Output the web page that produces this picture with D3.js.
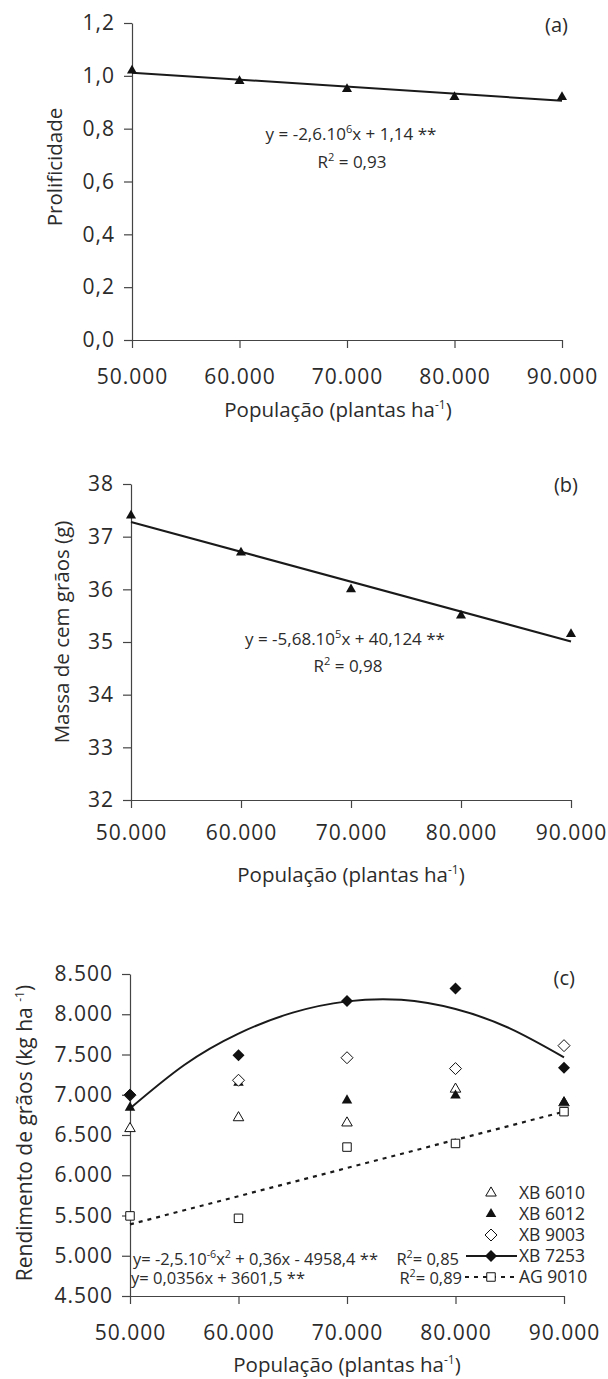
<!DOCTYPE html>
<html>
<head>
<meta charset="utf-8">
<script src="https://cdn.jsdelivr.net/npm/d3@7"></script>
<style>
  body { margin: 0; background: #fff; }
  svg { display: block; font-family: 'Open Sans', sans-serif; }
  .axis path, .axis line { stroke: #444; stroke-width: 1.2; }
  .axis text { fill: #2b2b2b; font-size: 21px; letter-spacing: 1px; font-family: 'Open Sans', sans-serif; }
</style>
</head>
<body>
<svg id="chart" width="608" height="1379"></svg>
<script>
// populacoes (plantas/ha)
const populations = [50000, 60000, 70000, 80000, 90000];

// (a) prolificidade
const prolificidade = [1.02, 0.98, 0.95, 0.92, 0.92];
const prolifFit = [1.012, 0.906];          // reta ajustada em 50k e 90k
const prolifTicks = [0, 0.2, 0.4, 0.6, 0.8, 1.0, 1.2];

// (b) massa de cem grãos
const massa = [37.4, 36.7, 36.0, 35.5, 35.15];
const massaFit = [37.28, 35.01];
const massaTicks = [32, 33, 34, 35, 36, 37, 38];

// (c) rendimento por híbrido
const xb6010 = [6580, 6715, 6650, 7070, 6900];
const xb6012 = [6840, 7150, 6930, 6990, 6905];
const xb9003 = [6995, 7180, 7460, 7325, 7610];
const xb7253 = [7000, 7490, 8165, 8320, 7335];
const ag9010 = [5495, 5465, 6350, 6395, 6790];
const curveX = [50000, 55000, 60000, 65000, 70000, 75000, 80000, 85000, 90000];
const curve7253 = [6830, 7370, 7760, 8020, 8160, 8180, 8065, 7825, 7465];
const agFit = [5390, 6790];
const rendTicks = [4500, 5000, 5500, 6000, 6500, 7000, 7500, 8000, 8500];

const locale = d3.formatLocale({ decimal: ',', thousands: '.', grouping: [3], currency: ['', ''] });
const fmtInt = locale.format(',d');
const fmt1 = locale.format('.1f');

const svg = d3.select('#chart');
const ink = '#2b2b2b';

const triangle = d3.symbol().type(d3.symbolTriangle);
const square = d3.symbol().type(d3.symbolSquare);

function drawAxes(x, y, yTicks, yFmt, xPad) {
  const [y0] = y.range();
  const [x0] = x.range();
  svg.append('g')
    .attr('class', 'axis')
    .attr('transform', `translate(0,${y0})`)
    .call(d3.axisBottom(x).tickValues(populations).tickFormat(fmtInt)
      .tickSize(8).tickSizeOuter(0).tickPadding(xPad));
  svg.append('g')
    .attr('class', 'axis')
    .attr('transform', `translate(${x0},0)`)
    .call(d3.axisLeft(y).tickValues(yTicks).tickFormat(yFmt)
      .tickSize(8).tickSizeOuter(0).tickPadding(9));
}

function xTitle(cx, cy) {
  const t = svg.append('text')
    .attr('x', cx).attr('y', cy)
    .attr('text-anchor', 'middle')
    .attr('fill', ink)
    .style('font-size', '20.5px');
  t.append('tspan').text('População (plantas ha');
  t.append('tspan').attr('dy', -8).style('font-size', '12px').text('-1');
  t.append('tspan').attr('dy', 8).text(')');
}

function yTitle(cx, cy, parts, size) {
  const t = svg.append('text')
    .attr('transform', `translate(${cx},${cy}) rotate(-90)`)
    .attr('text-anchor', 'middle')
    .attr('dy', '0.35em')
    .attr('fill', ink)
    .style('font-size', size + 'px');
  t.append('tspan').text(parts[0]);
  if (parts[1]) {
    t.append('tspan').attr('dy', -8).style('font-size', '12px').text(parts[1]);
    t.append('tspan').attr('dy', 8).text(parts[2]);
  }
}

function panelLabel(txt, x, y) {
  svg.append('text')
    .attr('x', x).attr('y', y)
    .attr('text-anchor', 'end')
    .attr('fill', ink)
    .style('font-size', '20px')
    .text(txt);
}

// equação com expoente
function eqText(x, y, anchor, pieces, size) {
  const t = svg.append('text')
    .attr('x', x).attr('y', y)
    .attr('text-anchor', anchor)
    .attr('fill', ink)
    .style('font-size', size + 'px');
  let up = false;
  pieces.forEach(p => {
    const sup = p.startsWith('^');
    const s = t.append('tspan').text(sup ? p.slice(1) : p);
    if (sup && !up) { s.attr('dy', -7).style('font-size', (size * 0.65) + 'px'); up = true; }
    else if (!sup && up) { s.attr('dy', 7); up = false; }
    else if (sup) { s.style('font-size', (size * 0.65) + 'px'); }
  });
  return t;
}

// ---------- (a) ----------
const xA = d3.scaleLinear().domain([50000, 90000]).range([132, 562]);
const yA = d3.scaleLinear().domain([0, 1.2]).range([340, 23]);
drawAxes(xA, yA, prolifTicks, fmt1, 21);

svg.append('line')
  .attr('x1', xA(50000)).attr('y1', yA(prolifFit[0]))
  .attr('x2', xA(90000)).attr('y2', yA(prolifFit[1]))
  .attr('stroke', '#1a1a1a').attr('stroke-width', 2);

svg.append('g').selectAll('path')
  .data(prolificidade)
  .join('path')
  .attr('d', triangle.size(44))
  .attr('transform', (d, i) => `translate(${xA(populations[i])},${yA(d)})`)
  .attr('fill', '#111');

eqText(351, 140, 'middle', ['y = -2,6.10', '^6', 'x + 1,14 **'], 17);
eqText(352, 168, 'middle', ['R', '^2', ' = 0,93'], 17);
panelLabel('(a)', 568, 32);
yTitle(55, 167, ['Prolificidade'], 20.5);
xTitle(338, 417);

// ---------- (b) ----------
const xB = d3.scaleLinear().domain([50000, 90000]).range([131, 571]);
const yB = d3.scaleLinear().domain([32, 38]).range([800, 484]);
drawAxes(xB, yB, massaTicks, fmtInt, 17);

svg.append('line')
  .attr('x1', xB(50000)).attr('y1', yB(massaFit[0]))
  .attr('x2', xB(90000)).attr('y2', yB(massaFit[1]))
  .attr('stroke', '#1a1a1a').attr('stroke-width', 2);

svg.append('g').selectAll('path')
  .data(massa)
  .join('path')
  .attr('d', triangle.size(44))
  .attr('transform', (d, i) => `translate(${xB(populations[i])},${yB(d)})`)
  .attr('fill', '#111');

eqText(345, 645, 'middle', ['y = -5,68.10', '^5', 'x + 40,124 **'], 17);
eqText(348, 672, 'middle', ['R', '^2', ' = 0,98'], 17);
panelLabel('(b)', 578, 492);
yTitle(62, 632, ['Massa de cem grãos (g)'], 20.5);
xTitle(351, 882);

// ---------- (c) ----------
const xC = d3.scaleLinear().domain([50000, 90000]).range([130, 564]);
const yC = d3.scaleLinear().domain([4500, 8500]).range([1296, 974]);
drawAxes(xC, yC, rendTicks, fmtInt, 21);

// curva ajustada XB 7253
svg.append('path')
  .datum(curveX.map((x, i) => [x, curve7253[i]]))
  .attr('fill', 'none')
  .attr('stroke', '#1a1a1a')
  .attr('stroke-width', 2)
  .attr('d', d3.line().x(d => xC(d[0])).y(d => yC(d[1])).curve(d3.curveNatural));

// reta AG 9010
svg.append('line')
  .attr('x1', xC(50000)).attr('y1', yC(agFit[0]))
  .attr('x2', xC(90000)).attr('y2', yC(agFit[1]))
  .attr('stroke', '#1a1a1a').attr('stroke-width', 2.2)
  .attr('stroke-dasharray', '4,5');

const diamondPath = 'M0,-6L6,0L0,6L-6,0Z';

const series = [
  { name: 'XB 6010', values: xb6010, kind: 'triOpen' },
  { name: 'XB 6012', values: xb6012, kind: 'triFill' },
  { name: 'XB 9003', values: xb9003, kind: 'diaOpen' },
  { name: 'XB 7253', values: xb7253, kind: 'diaFill' },
  { name: 'AG 9010', values: ag9010, kind: 'sqOpen' }
];

function marker(g, kind) {
  if (kind === 'triOpen') {
    g.append('path').attr('d', triangle.size(48)).attr('fill', '#fff').attr('stroke', '#111').attr('stroke-width', 1);
  } else if (kind === 'triFill') {
    g.append('path').attr('d', triangle.size(48)).attr('fill', '#111');
  } else if (kind === 'diaOpen') {
    g.append('path').attr('d', diamondPath).attr('fill', '#fff').attr('stroke', '#111').attr('stroke-width', 1);
  } else if (kind === 'diaFill') {
    g.append('path').attr('d', diamondPath).attr('fill', '#111');
  } else {
    g.append('path').attr('d', square.size(72)).attr('fill', '#fff').attr('stroke', '#111').attr('stroke-width', 1);
  }
}

series.forEach(s => {
  s.values.forEach((v, i) => {
    const g = svg.append('g').attr('transform', `translate(${xC(populations[i])},${yC(v)})`);
    marker(g, s.kind);
  });
});

// legenda
const legendY = [1193, 1214, 1235, 1256, 1277];
series.forEach((s, i) => {
  const ly = legendY[i];
  if (s.kind === 'diaFill') {
    svg.append('line').attr('x1', 466).attr('x2', 517).attr('y1', ly).attr('y2', ly)
      .attr('stroke', '#1a1a1a').attr('stroke-width', 2);
  }
  if (s.kind === 'sqOpen') {
    svg.append('line').attr('x1', 465).attr('x2', 516).attr('y1', ly).attr('y2', ly)
      .attr('stroke', '#1a1a1a').attr('stroke-width', 2.2).attr('stroke-dasharray', '4,5');
  }
  const g = svg.append('g').attr('transform', `translate(491,${ly})`);
  marker(g, s.kind);
  svg.append('text')
    .attr('x', 519).attr('y', ly).attr('dy', '0.35em')
    .attr('fill', ink)
    .style('font-size', '17.5px')
    .text(s.name);
});

eqText(133, 1265, 'start', ['y= -2,5.10', '^-6', 'x', '^2', ' + 0,36x - 4958,4 **'], 16.5);
eqText(459, 1265, 'end', ['R', '^2', '= 0,85'], 16.5);
eqText(131, 1284, 'start', ['y= 0,0356x + 3601,5 **'], 16.5);
eqText(462, 1284, 'end', ['R', '^2', '= 0,89'], 16.5);

panelLabel('(c)', 575, 985);
yTitle(25, 1133, ['Rendimento de grãos (kg ha ', '-1', ')'], 21);
xTitle(347, 1372);
</script>
</body>
</html>
